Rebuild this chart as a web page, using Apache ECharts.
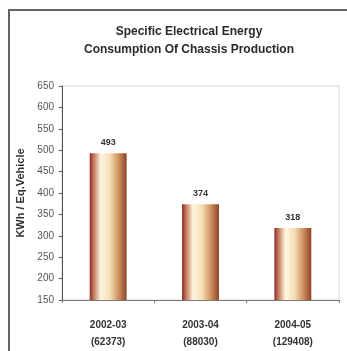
<!DOCTYPE html>
<html>
<head>
<meta charset="utf-8">
<script src="https://cdn.jsdelivr.net/npm/echarts@6/dist/echarts.min.js"></script>
<style>
  html, body { margin: 0; padding: 0; background: #fff; }
  #chart { width: 347px; height: 351px; }
</style>
</head>
<body>
<div id="chart"></div>
<script>
// Energy use per equivalent vehicle, by financial year (vehicles produced in brackets)
const years = ['2002-03', '2003-04', '2004-05'];
const vehicles = ['62373', '88030', '129408'];
const kwhPerVehicle = [493, 374, 318];

const yMin = 150, yMax = 650, yStep = 50;

const categories = years.map((y, i) => y + '\n(' + vehicles[i] + ')');

const font = 'Liberation Sans, Arial, sans-serif';

const barFill = new echarts.graphic.LinearGradient(0, 0, 1, 0, [
  { offset: 0, color: '#8a2c2c' },
  { offset: 0.1, color: '#c07458' },
  { offset: 0.3, color: '#fff6e0' },
  { offset: 0.55, color: '#f5ddb4' },
  { offset: 0.8, color: '#c98a58' },
  { offset: 1, color: '#8c4426' }
]);

const chart = echarts.init(document.getElementById('chart'), null, { renderer: 'canvas' });
chart.setOption({
  backgroundColor: '#fff',
  animation: false,
  title: {
    text: 'Specific Electrical Energy\nConsumption Of Chassis Production',
    left: 184,
    textAlign: 'center',
    top: 18,
    textStyle: {
      fontFamily: font,
      fontSize: 12,
      fontWeight: 'bold',
      color: '#2a2a2a',
      lineHeight: 18
    }
  },
  graphic: [
    {
      type: 'polyline',
      shape: { points: [[9, 351], [9, 10], [347, 10]] },
      style: { stroke: '#666', lineWidth: 2, fill: null },
      silent: true
    }
  ],
  grid: {
    left: 62, right: 8, top: 86, bottom: 51,
    show: true, borderColor: '#d8d8d8', borderWidth: 1
  },
  xAxis: {
    type: 'category',
    data: categories,
    axisLine: { lineStyle: { color: '#777', width: 1 } },
    axisTick: { show: true, length: 3, lineStyle: { color: '#777' } },
    axisLabel: {
      color: '#333', fontSize: 10, fontWeight: 'bold', margin: 17, lineHeight: 17,
      fontFamily: font
    }
  },
  yAxis: {
    type: 'value',
    min: yMin, max: yMax, interval: yStep,
    name: 'KWh / Eq.Vehicle',
    nameLocation: 'middle',
    nameGap: 32,
    nameTextStyle: {
      fontSize: 11, fontWeight: 'bold', color: '#333',
      fontFamily: font
    },
    axisLine: { show: true, lineStyle: { color: '#555', width: 1 } },
    axisTick: { show: true, length: 3, lineStyle: { color: '#555' } },
    axisLabel: {
      color: '#555', fontSize: 10, margin: 8,
      fontFamily: font
    },
    splitLine: { show: false }
  },
  series: [{
    type: 'bar',
    data: kwhPerVehicle,
    barWidth: '40%',
    itemStyle: { color: barFill },
    label: {
      show: true, position: 'top', distance: 6,
      fontSize: 9, fontWeight: 'bold', color: '#333',
      fontFamily: font
    }
  }]
});
</script>
</body>
</html>
